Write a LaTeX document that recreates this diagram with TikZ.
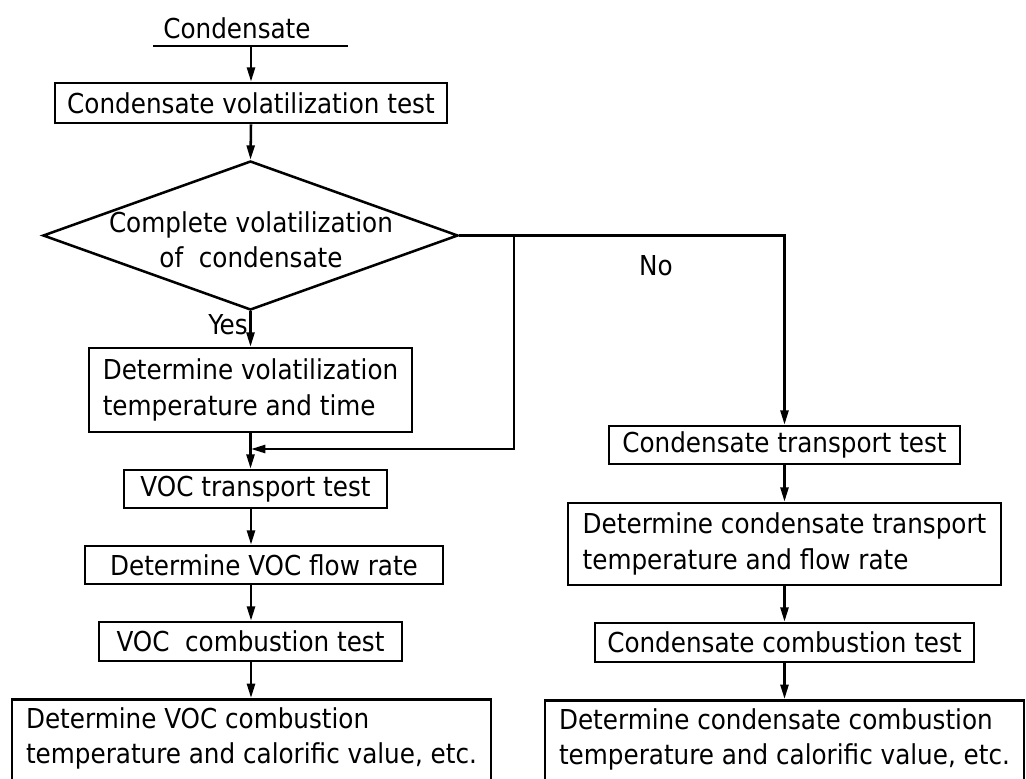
\documentclass[tikz,border=0pt]{standalone}
\usepackage{fontspec}
\setmainfont{DejaVu Sans Condensed}
\usetikzlibrary{arrows.meta,shapes.geometric}

\begin{document}
\begin{tikzpicture}[x=0.025cm,y=-0.025cm,line width=1.8pt,
    font=\fontsize{19.5}{25}\selectfont,
    box/.style={draw,inner sep=0pt,minimum height=0.95cm},
    tallbox/.style={draw,inner xsep=0pt,inner ysep=0.2cm,anchor=north,align=left},
    arr/.style={-{Triangle[length=0.36cm,width=0.2cm]}}]
  \useasboundingbox (0,0) rectangle (1026,778);
  \clip (0,0) rectangle (1026,778);

  % left column
  \node (cond) at (237,28) {Condensate};
  \coordinate (ulL) at (153,46);
  \coordinate (ulR) at (348,46);
  \coordinate (ulM) at (251,46);
  \node (b1) at (251,103) [box,minimum width=9.8cm,minimum height=1cm] {Condensate volatilization test};
  \node (dec) at (250.5,235.5) [diamond,draw,inner sep=0pt,minimum width=10.375cm,minimum height=3.725cm] {};
  \node (dect) at (251,240) [align=center] {Complete volatilization\\of\ \ condensate};
  \node (yes) at (228,325) {Yes};
  \node (b2) at (250.5,390) [box,align=left,minimum width=8.075cm,minimum height=2.1cm] {Determine volatilization\\temperature and time};
  \node (b3) at (255.5,489) [box,minimum width=6.575cm] {VOC transport test};
  \node (b4) at (264,565) [box,minimum width=8.95cm] {Determine VOC flow rate};
  \node (b5) at (250.5,641.5) [box,minimum width=7.575cm,minimum height=0.975cm] {VOC\ \ combustion test};
  \node (b6) at (251.5,698) [tallbox,minimum width=11.975cm] {Determine VOC combustion\\temperature and calorific value, etc.\\\mbox{}};

  % right column
  \node (no) at (656,266) {No};
  \node (r1) at (784.5,445) [box,minimum width=8.775cm] {Condensate transport test};
  \node (r2) at (784.5,544) [box,align=left,minimum width=10.825cm,minimum height=2.05cm] {Determine condensate transport\\temperature and flow rate};
  \node (r3) at (784.5,642.5) [box,minimum width=9.475cm,minimum height=0.975cm] {Condensate combustion test};
  \node (r4) at (784.5,699) [tallbox,minimum width=11.975cm] {Determine condensate combustion\\temperature and calorific value, etc.\\\mbox{}};

  \coordinate (jn) at (514,235.5);
  \coordinate (mrg) at (251,449);

  \draw (ulL) -- (ulR);
  \draw[arr] (ulM) -- (b1.north);
  \draw[arr] (b1.south) -- (dec.north);
  \draw[arr] (dec.south) -- (b2.north);
  \draw[arr] (dec.east) -| (r1.north);
  \draw[arr] (jn) |- (mrg);
  \draw[arr] (b2.south) -- (b3.north -| b2.south);
  \draw[arr] (b3.south -| mrg) -- (b4.north -| mrg);
  \draw[arr] (b4.south -| mrg) -- (b5.north -| mrg);
  \draw[arr] (b5.south -| mrg) -- (b6.north -| mrg);
  \draw[arr] (r1.south) -- (r2.north);
  \draw[arr] (r2.south) -- (r3.north);
  \draw[arr] (r3.south) -- (r4.north);
\end{tikzpicture}
\end{document}
